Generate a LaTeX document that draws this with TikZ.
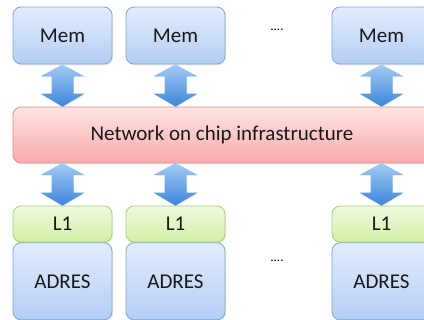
\documentclass[tikz,border=0pt]{standalone}
\usepackage{fontspec}
\setmainfont{Carlito}
\usepackage{tikz}
\usetikzlibrary{calc}
\usetikzlibrary{shadows}
\definecolor{memtop}{HTML}{E2ECFC}
\definecolor{membot}{HTML}{B4CEF4}
\definecolor{memline}{HTML}{7BA7DD}
\definecolor{noctop}{HTML}{FEE4E4}
\definecolor{nocbot}{HTML}{F8ABAB}
\definecolor{nocline}{HTML}{E58C8C}
\definecolor{ltop}{HTML}{F0FADF}
\definecolor{lbot}{HTML}{D2EFA5}
\definecolor{lline}{HTML}{A6D46B}
\definecolor{arrtop}{HTML}{A3CBF3}
\definecolor{arrbot}{HTML}{3B86DB}
\tikzset{
  box/.style={rounded corners=8pt, line width=0.8pt, inner sep=0pt,
    font=\fontsize{21}{24}\selectfont, text=black!90,
    drop shadow={opacity=0.18, shadow xshift=1pt, shadow yshift=-1.5pt}},
  membox/.style={box, draw=memline, top color=memtop, bottom color=membot,
    minimum width=99pt, minimum height=57pt},
  nocbox/.style={box, draw=nocline, top color=noctop, bottom color=nocbot,
    minimum width=418pt, minimum height=56pt},
  lbox/.style={box, draw=lline, top color=ltop, bottom color=lbot,
    minimum width=99pt, minimum height=36pt},
  pebox/.style={box, draw=memline, top color=memtop, bottom color=membot,
    minimum width=99pt, minimum height=77pt},
  linkfill/.style={top color=arrtop, bottom color=arrbot,
    drop shadow={opacity=0.15, shadow xshift=0.5pt, shadow yshift=-1pt}},
  gap/.style={font=\fontsize{13}{15}\selectfont}
}
\newcommand{\linkarrow}[2]{\path[linkfill] let \p1 = (#1.south), \p2 = (#2.north) in
  (\x1, \y1) -- (\x1+22pt, \y1-12pt) -- (\x1+11pt, \y1-12pt) -- (\x1+11pt, \y2+13pt)
  -- (\x1+22pt, \y2+13pt) -- (\x1, \y2) -- (\x1-22pt, \y2+13pt) -- (\x1-11pt, \y2+13pt)
  -- (\x1-11pt, \y1-12pt) -- (\x1-22pt, \y1-12pt) -- cycle;}
\begin{document}
\begin{tikzpicture}[x=1pt, y=1pt]
    \useasboundingbox (0,0) rectangle (424,-320);
    \clip (0,0) rectangle (424,-320);
    % memories
    \node[membox] (mem1) at (62.5,-35.5) {Mem};
    \node[membox] (mem2) at (175.5,-35.5) {Mem};
    \node[membox] (mem3) at (381.5,-35.5) {Mem};
    \node[gap] (dotsA) at (277,-30) {....};
    % network
    \node[nocbox] (noc) at (222,-135) {Network on chip infrastructure};
    % L1 and ADRES
    \node[lbox] (l1a) at (62.5,-224) {L1};
    \node[lbox] (l1b) at (175.5,-224) {L1};
    \node[lbox] (l1c) at (381.5,-224) {L1};
    \node[pebox, anchor=north] (pe1) at (l1a.south) {ADRES};
    \node[pebox, anchor=north] (pe2) at (l1b.south) {ADRES};
    \node[pebox, anchor=north] (pe3) at (l1c.south) {ADRES};
    \node[gap] (dotsB) at (277,-261) {....};
    % links
    \linkarrow{mem1}{noc}
    \linkarrow{mem2}{noc}
    \linkarrow{mem3}{noc}
    \path let \p1 = (l1a.north) in coordinate (na) at (\x1, -163);
    \path let \p1 = (l1b.north) in coordinate (nb) at (\x1, -163);
    \path let \p1 = (l1c.north) in coordinate (nc) at (\x1, -163);
    \linkarrow{na}{l1a}
    \linkarrow{nb}{l1b}
    \linkarrow{nc}{l1c}
\end{tikzpicture}
\end{document}
